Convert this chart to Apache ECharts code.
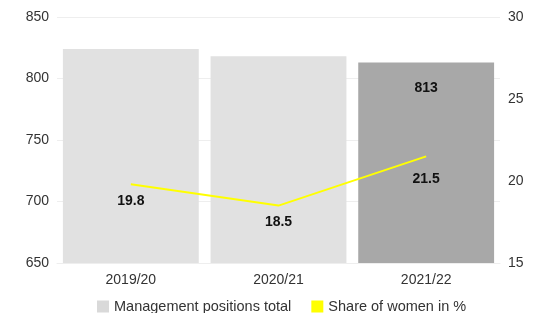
<!DOCTYPE html>
<html><head><meta charset="utf-8">
<script src="https://cdn.jsdelivr.net/npm/echarts@6/dist/echarts.min.js"></script>
<style>html,body{margin:0;padding:0;background:#fff}#c{width:538px;height:313px}</style>
</head><body><div id="c"></div>
<script>
const categories = ['2019/20', '2020/21', '2021/22'];
const managementTotal = [824, 818, 813];
const shareWomen = [19.8, 18.5, 21.5];
const leftTicks = [650, 700, 750, 800, 850];
const rightTicks = [15, 20, 25, 30];

const chart = echarts.init(document.getElementById('c'));
const font = 'Liberation Sans, Arial, sans-serif';
chart.setOption({
  animation: false,
  textStyle: { fontFamily: font },
  grid: { left: 57, right: 38, top: 17, bottom: 50 },
  legend: {
    bottom: -6, left: 92, itemWidth: 12, itemHeight: 12, itemGap: 20,
    textStyle: { fontSize: 14.5, color: '#333', fontFamily: font },
    data: [
      { name: 'Management positions total', icon: 'rect', itemStyle: { color: '#d9d9d9' } },
      { name: 'Share of women in %', icon: 'rect', itemStyle: { color: '#ffff00' } }
    ]
  },
  xAxis: {
    type: 'category', data: categories,
    axisLine: { show: true, lineStyle: { color: '#eeeeee' } },
    axisTick: { show: false },
    axisLabel: { fontSize: 14, color: '#333', margin: 10 }
  },
  yAxis: [
    { type: 'value', min: leftTicks[0], max: leftTicks[leftTicks.length - 1], interval: 50,
      axisLabel: { fontSize: 14, color: '#333', margin: 8 },
      splitLine: { lineStyle: { color: '#eeeeee' } }, axisLine: { show: false }, axisTick: { show: false } },
    { type: 'value', min: rightTicks[0], max: rightTicks[rightTicks.length - 1], interval: 5,
      axisLabel: { fontSize: 14, color: '#333', margin: 8 },
      splitLine: { show: false }, axisLine: { show: false }, axisTick: { show: false } }
  ],
  series: [
    { name: 'Management positions total', type: 'bar', barWidth: '92%',
      data: managementTotal.map((v, i) => ({
        value: v,
        itemStyle: { color: i === managementTotal.length - 1 ? '#a8a8a8' : '#e1e1e1' },
        label: { show: i === managementTotal.length - 1, position: 'insideTop', distance: 19,
          fontSize: 14, fontWeight: 'bold', color: '#111' }
      })) },
    { name: 'Share of women in %', type: 'line', yAxisIndex: 1,
      data: shareWomen.map((v, i) => ({ value: v, label: { distance: i === shareWomen.length - 1 ? 16 : 10 } })),
      symbol: 'circle', symbolSize: 0, showSymbol: true,
      lineStyle: { color: '#ffff00', width: 2 }, itemStyle: { color: '#ffff00' },
      label: { show: true, position: 'bottom', distance: 10, fontSize: 14, fontWeight: 'bold', color: '#111',
        formatter: p => p.value.toFixed(1) } }
  ]
});
</script></body></html>
